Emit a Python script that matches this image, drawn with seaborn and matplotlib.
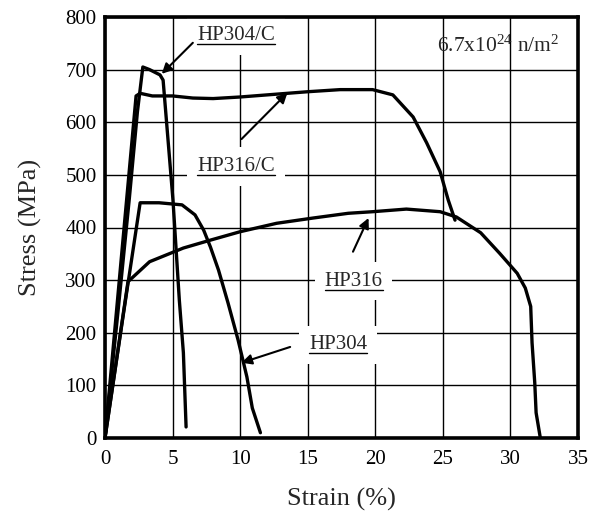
import matplotlib
matplotlib.use("Agg")
import matplotlib.pyplot as plt
import seaborn as sns
import pandas as pd
from matplotlib.ticker import MultipleLocator

# ---- data ----
hp304c_strain = [0.0, 1.0, 1.8, 2.4, 2.8, 3.3, 4.07, 4.3, 5.03, 5.5, 5.8, 6.0]
hp304c_stress = [0, 250, 455, 620, 705, 700, 690, 680, 452, 262, 162, 21]

hp316c_strain = [0.0, 1.2, 2.3, 2.6, 3.5, 5.0, 6.5, 8.0, 10.0, 12.0, 13.5, 15.0, 17.4,
                 19.8, 21.3, 22.8, 23.8, 24.8, 25.4, 25.9]
hp316c_stress = [0, 340, 650, 655, 650, 650, 646, 645, 648, 652, 655, 658, 662,
                 662, 652, 610, 561, 506, 452, 414]

hp304_strain = [0.0, 1.3, 2.6, 4.0, 5.7, 6.66, 7.3, 7.8, 8.4, 9.1, 9.85, 10.5, 10.9, 11.5]
hp304_stress = [0, 225, 447, 447, 443, 424, 395, 363, 319, 257, 186, 116, 57, 10]

hp316_strain = [0.0, 1.7, 3.3, 5.8, 7.8, 10.0, 12.7, 15.4, 18.0, 19.8, 22.3, 24.8,
                26.0, 27.8, 29.2, 30.5, 31.1, 31.5, 31.6, 31.8, 31.9, 32.2]
hp316_stress = [0, 297, 335, 361, 376, 392, 408, 418, 427, 430, 435, 430,
                420, 390, 351, 313, 285, 250, 181, 105, 48, 2]

series_names = ["HP304/C", "HP316/C", "HP304", "HP316"]
x_ticks = [0, 5, 10, 15, 20, 25, 30, 35]
y_ticks = [0, 100, 200, 300, 400, 500, 600, 700, 800]

frames = []
for name, xs, ys in zip(series_names,
                        [hp304c_strain, hp316c_strain, hp304_strain, hp316_strain],
                        [hp304c_stress, hp316c_stress, hp304_stress, hp316_stress]):
    frames.append(pd.DataFrame({"strain": xs, "stress": ys, "series": name,
                                "order": range(len(xs))}))
df = pd.concat(frames, ignore_index=True)

# ---- style ----
sns.set_style("white")
plt.rcParams["font.family"] = ["Liberation Serif", "DejaVu Serif"]
plt.rcParams["mathtext.fontset"] = "custom"
plt.rcParams["mathtext.rm"] = "Liberation Serif"
plt.rcParams["mathtext.it"] = "Liberation Serif:italic"

fig = plt.figure(figsize=(5.97, 5.12), dpi=100)
ax = fig.add_axes([105 / 597, 1 - 438 / 512, (578 - 105) / 597, (438 - 17) / 512])

sns.lineplot(data=df, x="strain", y="stress", hue="series", units="series",
             estimator=None, sort=False, palette=["black"] * 4, linewidth=2.4,
             legend=False, ax=ax, zorder=5)

ax.set_xlim(0, 35)
ax.set_ylim(0, 800)
ax.set_xticks(x_ticks)
ax.set_yticks(y_ticks)
ax.xaxis.set_minor_locator(MultipleLocator(1))
ax.yaxis.set_minor_locator(MultipleLocator(20))
ax.tick_params(which="both", direction="in", colors="black", labelsize=15)
ax.tick_params(which="major", length=0, pad=6)
ax.tick_params(axis="x", which="major", pad=9)
ax.tick_params(which="minor", length=4, width=0.8)
ax.grid(True, which="major", color="black", linewidth=1.0)
ax.set_axisbelow(True)
for sp in ax.spines.values():
    sp.set_linewidth(2.6)
    sp.set_color("black")
    sp.set_zorder(6)

ax.set_xlabel("Strain (%)", fontsize=19, labelpad=13)
ax.set_ylabel("Stress (MPa)", fontsize=19, labelpad=17)

# ---- annotations ----
labels = [
    ("HP304/C", (9.7, 764), (6.5, 751), (4.2, 692)),
    ("HP316/C", (9.7, 516), (10.1, 568), (13.5, 656)),
    ("HP316", (18.4, 298), (18.35, 354), (19.5, 418)),
    ("HP304", (17.25, 177), (13.7, 173), (10.1, 143)),
]
texts = []
for name, tpos, tail, head in labels:
    t = ax.text(tpos[0], tpos[1], name, fontsize=15, ha="center", va="center",
                zorder=3, bbox=dict(facecolor="white", edgecolor="none", pad=7))
    texts.append(t)
    ax.annotate("", xy=head, xytext=tail,
                arrowprops=dict(arrowstyle="-|>,head_length=0.6,head_width=0.3",
                                color="black", lw=1.5, shrinkA=0, shrinkB=0),
                zorder=7)

ax.text(29.1, 734, r"6.7x10$^{24}$ n/m$^{2}$", fontsize=15.5, ha="center",
        va="baseline", zorder=3)

# underline the curve labels
fig.canvas.draw()
renderer = fig.canvas.get_renderer()
inv = ax.transData.inverted()
for t in texts:
    bb = t.get_window_extent(renderer=renderer)
    (x0, y0) = inv.transform((bb.x0, bb.y0 + 1))
    (x1, _) = inv.transform((bb.x1, bb.y0 + 1))
    ax.plot([x0, x1], [y0, y0], color="black", lw=1.0, zorder=4)

fig.savefig("out.png", dpi=100)
